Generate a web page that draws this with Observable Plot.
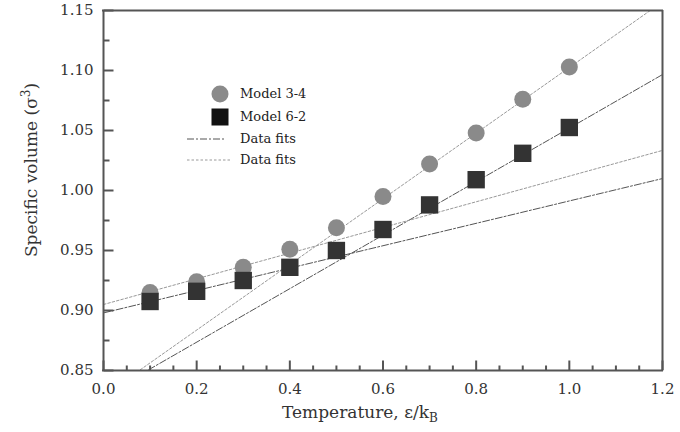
<!DOCTYPE html>
<html>
<head>
<meta charset="utf-8">
<script src="https://cdn.jsdelivr.net/npm/d3@7"></script>
<script src="https://cdn.jsdelivr.net/npm/@observablehq/plot@0.6"></script>
<style>
  html, body { margin: 0; padding: 0; background: #fff; }
  #wrap { position: relative; width: 680px; height: 432px; font-family: "DejaVu Serif", serif; color: #333; }
  .lbl { position: absolute; white-space: nowrap; color: #333; }
  .leg { position: absolute; font-size: 13px; white-space: nowrap; color: #222; }
</style>
</head>
<body>
<div id="wrap"></div>
<script>
// ---- data ----
const temperature = [0.1, 0.2, 0.3, 0.4, 0.5, 0.6, 0.7, 0.8, 0.9, 1.0];
const model34 = [0.915, 0.924, 0.936, 0.951, 0.969, 0.995, 1.022, 1.048, 1.076, 1.103];
const model62 = [0.9075, 0.916, 0.925, 0.936, 0.950, 0.9675, 0.988, 1.009, 1.031, 1.0525];
// linear data fits: volume = intercept + slope * T
const fitNames = ["6-2 low", "6-2 high", "3-4 low", "3-4 high"];
const fitIntercept = [0.898, 0.829, 0.905, 0.829];
const fitSlope = [0.0933, 0.223, 0.107, 0.2735];
const xTicks = [0.0, 0.2, 0.4, 0.6, 0.8, 1.0, 1.2];
const yTicks = [0.85, 0.90, 0.95, 1.00, 1.05, 1.10, 1.15];

const xDomain = [0, 1.2], yDomain = [0.85, 1.15];
const xMinor = d3.range(0, 1.2001, 0.05).filter(v => Math.abs(v / 0.2 - Math.round(v / 0.2)) > 1e-6);
const yMinor = d3.range(0.875, 1.15, 0.05);

const pts34 = temperature.map((t, i) => ({t, v: model34[i]}));
const pts62 = temperature.map((t, i) => ({t, v: model62[i]}));
const fitLines = fitNames.map((name, i) => xDomain.map(t => ({name, t, v: fitIntercept[i] + fitSlope[i] * t})));

const dashDot = "7,2,2,2";
const dotted = "2.5,2";

const W = 680, H = 432, mL = 103, mR = 18, mT = 10, mB = 62;
const innerW = W - mL - mR, innerH = H - mT - mB;
const pxY = (yDomain[1] - yDomain[0]) / innerH;
const pxX = (xDomain[1] - xDomain[0]) / innerW;

const xTickRows = xTicks.map(t => ({t, len: 10})).concat(xMinor.map(t => ({t, len: 5})));
const yTickRows = yTicks.map(v => ({v, len: 10})).concat(yMinor.map(v => ({v, len: 6})));

const axisColor = "#555";

const plot = Plot.plot({
  width: W, height: H,
  marginLeft: mL, marginRight: mR, marginTop: mT, marginBottom: mB,
  style: {fontFamily: "DejaVu Serif", fontSize: "15px", color: "#333", background: "#fff"},
  x: {domain: xDomain},
  y: {domain: yDomain},
  marks: [
    Plot.line(fitLines[0], {x: "t", y: "v", stroke: "#555", strokeWidth: 1, strokeDasharray: dashDot, clip: true}),
    Plot.line(fitLines[1], {x: "t", y: "v", stroke: "#555", strokeWidth: 1, strokeDasharray: dashDot, clip: true}),
    Plot.line(fitLines[2], {x: "t", y: "v", stroke: "#999", strokeWidth: 1, strokeDasharray: dotted, clip: true}),
    Plot.line(fitLines[3], {x: "t", y: "v", stroke: "#999", strokeWidth: 1, strokeDasharray: dotted, clip: true}),
    Plot.dot(pts34, {x: "t", y: "v", r: 8.5, fill: "#8a8a8a"}),
    Plot.dot(pts62, {x: "t", y: "v", r: 9.8, symbol: "square", fill: "#333"}),
    // inward ticks
    Plot.link(xTickRows, {x1: "t", x2: "t", y1: () => yDomain[0], y2: d => yDomain[0] + d.len * pxY, stroke: axisColor, strokeWidth: 2}),
    Plot.link(yTickRows, {y1: "v", y2: "v", x1: () => xDomain[0], x2: d => xDomain[0] + d.len * pxX, stroke: axisColor, strokeWidth: 2}),
    Plot.axisX(xTicks, {tickSize: 0, tickPadding: 13, tickFormat: d3.format(".1f"), label: null, fontSize: 15, fill: "#333"}),
    Plot.axisY(yTicks, {tickSize: 0, tickPadding: 10, tickFormat: d3.format(".2f"), label: null, fontSize: 15, fill: "#333"}),
    // frame drawn as rules along the domain edges
    Plot.ruleX(xDomain, {x: d => d, y1: yDomain[0], y2: yDomain[1], stroke: axisColor, strokeWidth: 2}),
    Plot.ruleY(yDomain, {y: d => d, x1: xDomain[0], x2: xDomain[1], stroke: axisColor, strokeWidth: 2, strokeLinecap: "square"})
  ]
});

const wrap = document.getElementById("wrap");
wrap.appendChild(plot);

function addDiv(cls, html, style) {
  const d = document.createElement("div");
  d.className = cls;
  d.innerHTML = html;
  Object.assign(d.style, style);
  wrap.appendChild(d);
  return d;
}
// axis titles
addDiv("lbl", "Temperature, ε/k<sub style='font-size:12px'>B</sub>", {left: "282px", top: "402px", fontSize: "17px"});
addDiv("lbl", "Specific volume (σ<sup style='font-size:12px'>3</sup>)", {
  left: "30px", top: "170px", fontSize: "17px",
  transform: "translate(-50%, -50%) rotate(-90deg)"
});

// legend
const legItems = [
  {label: "Model 3-4", svg: `<svg width="50" height="22"><circle cx="40" cy="11" r="8.5" fill="#8a8a8a"/></svg>`},
  {label: "Model 6-2", svg: `<svg width="50" height="22"><rect x="31.5" y="2.5" width="17" height="17" fill="#111"/></svg>`},
  {label: "Data fits", svg: `<svg width="50" height="22"><line x1="7" x2="46" y1="11" y2="11" stroke="#555" stroke-dasharray="${dashDot}"/></svg>`},
  {label: "Data fits", svg: `<svg width="50" height="22"><line x1="7" x2="50" y1="11" y2="11" stroke="#999" stroke-dasharray="${dotted}"/></svg>`}
];
const legTops = [83, 106, 128, 149];
legItems.forEach((it, i) => {
  addDiv("leg", it.svg, {left: "180px", top: legTops[i] + "px", lineHeight: "0"});
  addDiv("leg", it.label, {left: "240px", top: (legTops[i] + 3) + "px", lineHeight: "16px"});
});
</script>
</body>
</html>
